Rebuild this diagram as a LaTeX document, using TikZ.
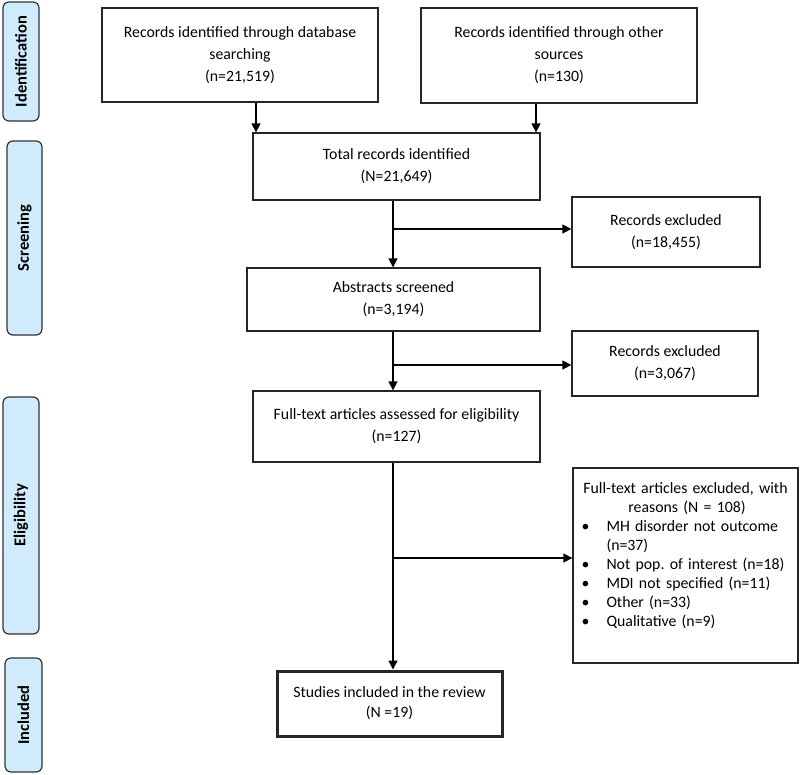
\documentclass[tikz,border=0pt]{standalone}
\usepackage{fontspec}
\setmainfont{Carlito}
\usetikzlibrary{arrows.meta,calc}
\frenchspacing
\definecolor{phasefill}{RGB}{208,235,251}
\definecolor{phaseline}{RGB}{50,50,50}
\tikzset{
  box/.style={draw=black!85, line width=1.3pt, fill=white, align=center, inner sep=0pt,
    font=\fontsize{15.8}{22}\selectfont},
  incbox/.style={box, line width=3pt},
  phase/.style={draw=phaseline, line width=1.2pt, fill=phasefill, rounded corners=6pt,
    inner sep=0pt},
  phasetext/.style={rotate=90, font=\bfseries\fontsize{16.5}{20}\selectfont},
  arr/.style={line width=1.5pt, -{Triangle[length=9pt,width=9pt]}}
}
\begin{document}
\begin{tikzpicture}[x=1pt,y=-1pt]
\useasboundingbox (0,0) rectangle (800,774);
% phase labels
\node[phase, minimum width=36, minimum height=119] (pid) at (21,61.5) {};
\node[phasetext] (pidt) at (pid.center) {Identification};
\node[phase, minimum width=35, minimum height=194] (psc) at (24.5,238) {};
\node[phasetext] (psct) at (psc.center) {Screening};
\node[phase, minimum width=36, minimum height=237] (pel) at (21,515.5) {};
\node[phasetext] (pelt) at (pel.center) {Eligibility};
\node[phase, minimum width=37, minimum height=114] (pin) at (23.5,715) {};
\node[phasetext] (pint) at (pin.center) {Included};
% main boxes
\node[box, minimum width=276, minimum height=94] (db) at (240,55) {Records identified through database\\searching\\(n=21,519)};
\node[box, minimum width=276, minimum height=95] (oth) at (559,55.5) {Records identified through other\\sources\\(n=130)};
\node[box, minimum width=287, minimum height=67] (tot) at (396.5,166.5) {Total records identified\\(N=21,649)};
\node[box, minimum width=188, minimum height=70] (ex1) at (666,232) {Records excluded\\(n=18,455)};
\node[box, minimum width=293, minimum height=63] (abs) at (393.5,299.5) {Abstracts screened\\(n=3,194)};
\node[box, minimum width=186, minimum height=65] (ex2) at (665,363.5) {Records excluded\\(n=3,067)};
\node[box, minimum width=287, minimum height=71] (ft) at (396.5,426.5) {Full-text articles assessed for eligibility\\(n=127)};
\node[box, minimum width=225, minimum height=195] (ex3) at (685.5,565.5) {};
\node[anchor=north, text width=212, inner sep=0pt, align=left,
  font=\fontsize{15.8}{19}\selectfont] (ex3t) at ([yshift=-15pt]ex3.north) {%
  \centering Full-text articles excluded, with\\ \hspace*{3pt}reasons (N = 108)\par
  \raggedright
  \makebox[27pt][l]{\hspace*{2pt}\textbullet}MH disorder not outcome\\
  \hspace*{27pt}(n=37)\\
  \makebox[27pt][l]{\hspace*{2pt}\textbullet}Not pop. of interest (n=18)\\
  \makebox[27pt][l]{\hspace*{2pt}\textbullet}MDI not specified (n=11)\\
  \makebox[27pt][l]{\hspace*{2pt}\textbullet}Other (n=33)\\
  \makebox[27pt][l]{\hspace*{2pt}\textbullet}Qualitative (n=9)\par};
\node[incbox, minimum width=225, minimum height=65, font=\fontsize{15.8}{20}\selectfont] (inc) at (389.5,703.5) {Studies included in the review\\(N =19)};
% connectors
\coordinate (a1) at (256,0);
\coordinate (a2) at (536,0);
\coordinate (mx) at (393,0);
\draw[arr] (db.south -| a1) -- (tot.north -| a1);
\draw[arr] (oth.south -| a2) -- (tot.north -| a2);
\draw[arr] (tot.south -| mx) -- (abs.north -| mx);
\draw[arr] (abs.south -| mx) -- (ft.north -| mx);
\draw[arr] (ft.south -| mx) -- (inc.north -| mx);
\coordinate (b1) at (393,229);
\coordinate (b2) at (393,365);
\coordinate (b3) at (393,558);
\draw[arr] (b1) -- (b1 -| ex1.west);
\draw[arr] (b2) -- (b2 -| ex2.west);
\draw[arr] (b3) -- (b3 -| ex3.west);
\end{tikzpicture}
\end{document}
